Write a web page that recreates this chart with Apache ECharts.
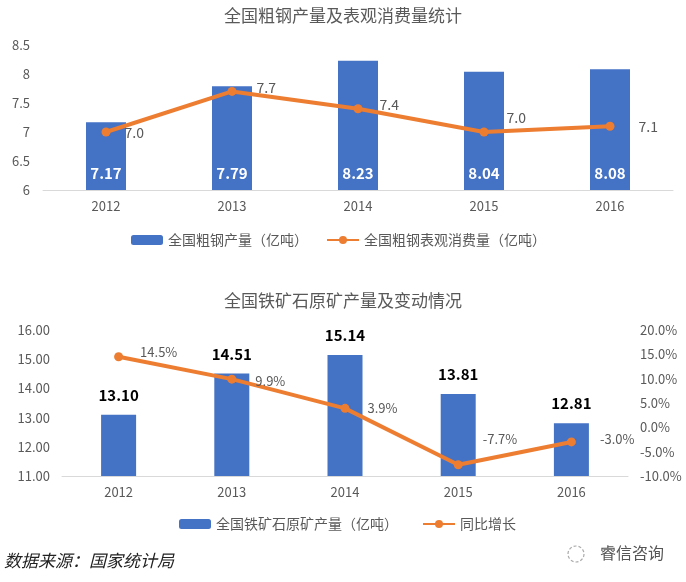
<!DOCTYPE html>
<html><head><meta charset="utf-8">
<script src="https://cdn.jsdelivr.net/npm/echarts@6/dist/echarts.min.js"></script>
<style>html,body{margin:0;padding:0;background:#fff}#c{width:686px;height:582px}</style>
</head><body><div id="c"></div>
<script>
const years = ['2012','2013','2014','2015','2016'];
const steelOutput = [7.17, 7.79, 8.23, 8.04, 8.08];
const steelConsumption = [7.0, 7.7, 7.4, 7.0, 7.1];
const oreOutput = [13.10, 14.51, 15.14, 13.81, 12.81];
const oreGrowth = [14.5, 9.9, 3.9, -7.7, -3.0];

const F = '"Noto Sans CJK SC",sans-serif';
const G = '#595959';
const BLUE = '#4472C4', ORANGE = '#ED7D31';

const topOffsets = [[8,1],[14,-4],[11,-4],[12,-14],[18,0]];
const botOffsets = [[9,-5],[11,2],[10,0],[12,-26],[16,-3]];

const chart = echarts.init(document.getElementById('c'));
chart.setOption({
  animation:false,
  textStyle:{fontFamily:F},
  title:[
    {text:'全国粗钢产量及表观消费量统计',left:'center',top:2,textStyle:{fontFamily:F,fontSize:17,fontWeight:'normal',color:G}},
    {text:'全国铁矿石原矿产量及变动情况',left:'center',top:287,textStyle:{fontFamily:F,fontSize:17,fontWeight:'normal',color:G}}
  ],
  grid:[
    {left:43,top:45,width:630,height:145},
    {left:62,top:330,width:566,height:146}
  ],
  legend:[
    {data:['全国粗钢产量（亿吨）','全国粗钢表观消费量（亿吨）'],top:228,left:126,itemGap:18,itemWidth:32,itemHeight:10,
     textStyle:{fontFamily:F,fontSize:14,color:G}},
    {data:['全国铁矿石原矿产量（亿吨）','同比增长'],top:512,left:174,itemGap:24,itemWidth:32,itemHeight:10,
     textStyle:{fontFamily:F,fontSize:14,color:G}}
  ],
  xAxis:[
    {type:'category',gridIndex:0,data:years,axisTick:{show:false},
     axisLine:{onZero:false,lineStyle:{color:'#D9D9D9'}},axisLabel:{color:G,fontSize:13,margin:10}},
    {type:'category',gridIndex:1,data:years,axisTick:{show:false},
     axisLine:{onZero:false,lineStyle:{color:'#D9D9D9'}},axisLabel:{color:G,fontSize:13,margin:10}}
  ],
  yAxis:[
    {type:'value',gridIndex:0,min:6,max:8.5,interval:0.5,splitLine:{show:false},
     axisLabel:{color:G,fontSize:13,margin:13}},
    {type:'value',gridIndex:1,min:11,max:16,interval:1,splitLine:{show:false},
     axisLabel:{color:G,fontSize:13,margin:12,formatter:v=>v.toFixed(2)}},
    {type:'value',gridIndex:1,position:'right',min:-10,max:20,interval:5,splitLine:{show:false},
     axisLabel:{color:G,fontSize:13,margin:12,formatter:v=>v.toFixed(1)+'%'}}
  ],
  series:[
    {name:'全国粗钢产量（亿吨）',type:'bar',xAxisIndex:0,yAxisIndex:0,data:steelOutput,barWidth:40,
     itemStyle:{color:BLUE},
     label:{show:true,position:'insideBottom',distance:9,color:'#fff',fontWeight:'bold',fontSize:15,
       formatter:p=>p.value.toFixed(2)}},
    {name:'全国粗钢表观消费量（亿吨）',type:'line',xAxisIndex:0,yAxisIndex:0,
     data:steelConsumption.map((v,i)=>({value:v,label:{offset:topOffsets[i]}})),
     symbol:'circle',symbolSize:9,lineStyle:{color:ORANGE,width:4},itemStyle:{color:ORANGE},
     label:{show:true,position:'right',distance:6,color:G,fontSize:14,formatter:p=>p.value.toFixed(1)}},
    {name:'全国铁矿石原矿产量（亿吨）',type:'bar',xAxisIndex:1,yAxisIndex:1,data:oreOutput,barWidth:35,
     itemStyle:{color:BLUE},
     label:{show:true,position:'top',distance:12,color:'#000',fontWeight:'bold',fontSize:15,
       formatter:p=>p.value.toFixed(2)}},
    {name:'同比增长',type:'line',xAxisIndex:1,yAxisIndex:2,
     data:oreGrowth.map((v,i)=>({value:v,label:{offset:botOffsets[i]}})),
     symbol:'circle',symbolSize:9,lineStyle:{color:ORANGE,width:4},itemStyle:{color:ORANGE},
     label:{show:true,position:'right',distance:8,color:G,fontSize:13,formatter:p=>p.value.toFixed(1)+'%'}}
  ],
  graphic:[
    {type:'text',left:4,top:552,style:{text:'数据来源：国家统计局',fontFamily:F,fontSize:17,fontStyle:'italic',fill:'#222'}},
    {type:'text',left:600,top:545,style:{text:'睿信咨询',fontFamily:F,fontSize:16,fill:'#555'}},
    {type:'circle',shape:{cx:576,cy:554,r:8},style:{fill:'none',stroke:'#aaa',lineWidth:1.2,lineDash:[3,2]}}
  ]
});
</script></body></html>
